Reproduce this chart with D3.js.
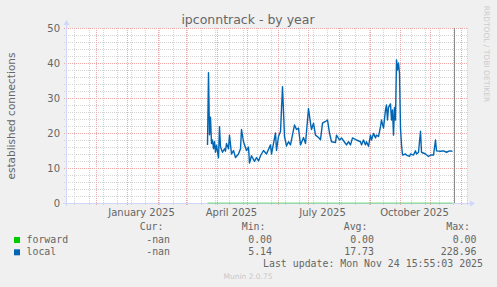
<!DOCTYPE html>
<html>
<head>
<meta charset="utf-8">
<script src="https://cdn.jsdelivr.net/npm/d3@7"></script>
<style>
body { margin: 0; background: #f0f0f0; }
svg { display: block; }
text { font-family: "DejaVu Sans", sans-serif; fill: #666666; }
.mono { font-family: "DejaVu Sans Mono", monospace; font-size: 9.9px; }
</style>
</head>
<body>
<div id="graph"></div>
<script>
// local connections, one reading per date
let localDates = [
    "2025-03-23", "2025-03-24", "2025-03-25", "2025-03-26", "2025-03-27", "2025-03-28", "2025-03-29", "2025-03-30",
    "2025-03-31", "2025-04-01", "2025-04-03", "2025-04-04", "2025-04-05", "2025-04-07", "2025-04-09", "2025-04-10",
    "2025-04-11", "2025-04-13", "2025-04-14", "2025-04-16", "2025-04-18", "2025-04-20", "2025-04-23", "2025-04-25",
    "2025-04-26", "2025-04-28", "2025-05-01", "2025-05-03", "2025-05-04", "2025-05-06", "2025-05-09", "2025-05-11",
    "2025-05-13", "2025-05-15", "2025-05-18", "2025-05-21", "2025-05-25", "2025-05-26", "2025-05-28", "2025-05-30",
    "2025-05-31", "2025-06-02", "2025-06-04", "2025-06-06", "2025-06-08", "2025-06-10", "2025-06-12", "2025-06-14",
    "2025-06-18", "2025-06-20", "2025-06-22", "2025-06-24", "2025-06-27", "2025-06-29", "2025-07-02", "2025-07-04",
    "2025-07-05", "2025-07-07", "2025-07-09", "2025-07-12", "2025-07-14", "2025-07-16", "2025-07-19", "2025-07-21",
    "2025-07-23", "2025-07-25", "2025-07-29", "2025-07-30", "2025-08-02", "2025-08-04", "2025-08-08", "2025-08-09",
    "2025-08-11", "2025-08-13", "2025-08-15", "2025-08-19", "2025-08-23", "2025-08-24", "2025-08-26", "2025-08-28",
    "2025-08-29", "2025-08-31", "2025-09-02", "2025-09-03", "2025-09-05", "2025-09-07", "2025-09-08", "2025-09-10",
    "2025-09-12", "2025-09-13", "2025-09-15", "2025-09-17", "2025-09-18", "2025-09-19", "2025-09-20", "2025-09-22",
    "2025-09-23", "2025-09-24", "2025-09-25", "2025-09-26", "2025-09-27", "2025-09-28", "2025-09-29", "2025-09-30",
    "2025-10-01", "2025-10-02", "2025-10-03", "2025-10-04", "2025-10-07", "2025-10-08", "2025-10-11", "2025-10-12",
    "2025-10-15", "2025-10-17", "2025-10-18", "2025-10-20", "2025-10-22", "2025-10-23", "2025-10-27", "2025-10-30",
    "2025-11-01", "2025-11-04", "2025-11-06", "2025-11-07", "2025-11-11", "2025-11-14", "2025-11-17", "2025-11-20",
    "2025-11-23"
];
let localValues = [
    16.6, 37.2, 19.5, 24.5, 17.0, 18.0, 15.5, 17.5,
    14.5, 16.5, 12.9, 21.8, 16.0, 14.5, 15.5, 14.8,
    17.0, 15.5, 19.4, 14.0, 15.0, 13.0, 14.0, 15.5,
    21.0, 17.5, 15.0, 16.0, 11.4, 13.5, 11.9, 13.0,
    12.0, 13.5, 15.0, 14.0, 16.6, 14.0, 17.0, 20.0,
    15.0, 19.0, 20.4, 33.2, 19.0, 16.3, 17.5, 16.6,
    22.3, 21.0, 21.4, 16.6, 18.7, 17.0, 27.0, 22.8,
    21.0, 22.8, 19.4, 18.7, 18.1, 22.8, 23.3, 23.7,
    20.0, 17.5, 17.3, 19.4, 18.0, 18.6, 17.0, 16.6,
    17.5, 16.6, 18.6, 18.0, 17.5, 16.6, 18.0, 16.6,
    17.5, 16.2, 19.4, 18.0, 19.9, 18.6, 19.4, 19.0,
    21.8, 23.7, 21.4, 26.6, 28.0, 23.7, 27.3, 28.3,
    23.7, 26.6, 19.4, 27.3, 23.7, 40.9, 38.0, 40.0,
    37.0, 21.4, 16.6, 13.7, 14.0, 13.7, 13.3, 14.0,
    13.7, 14.9, 14.0, 14.5, 20.5, 14.5, 14.0, 13.3,
    13.7, 13.7, 18.0, 14.9, 14.8, 14.9, 14.5, 14.9,
    14.8
];
let forwardDates = ["2025-03-23", "2025-11-23"];
let forwardValues = [0, 0];

let yTicks = [0, 10, 20, 30, 40, 50];
let legendNames = ["forward", "local"];
let legendCur = ["-nan", "-nan"];
let legendMin = ["0.00", "5.14"];
let legendAvg = ["0.00", "17.73"];
let legendMax = ["0.00", "228.96"];
let lastUpdate = "Last update: Mon Nov 24 15:55:03 2025";
let nowDate = "2025-11-24T15:55:03";

let colors = ["#00cc00", "#0066b3"];
let svgWidth = 497, svgHeight = 287;
let parseDay = d3.utcParse("%Y-%m-%d");

let x = d3.scaleUtc()
    .domain([new Date(Date.UTC(2024, 10, 2, 12)), new Date(Date.UTC(2025, 11, 7, 12))])
    .range([67, 467]);
let y = d3.scaleLinear()
    .domain([0, 50])
    .range([203, 28]);

let svg = d3.select("#graph").append("svg")
    .attr("width", svgWidth)
    .attr("height", svgHeight);

// 1px on / 1px off dot patterns for the rrdtool style grid
let defs = svg.append("defs");
[["minH", "#d4d4d4", 2, 1], ["minV", "#d4d4d4", 1, 2], ["majH", "#eca8a8", 2, 1], ["majV", "#eca8a8", 1, 2]]
    .forEach(function(p) {
        defs.append("pattern")
            .attr("id", p[0])
            .attr("patternUnits", "userSpaceOnUse")
            .attr("width", p[2]).attr("height", p[3])
            .append("rect")
            .attr("width", 1).attr("height", 1)
            .attr("fill", p[1]);
    });

svg.append("rect")
    .attr("width", svgWidth).attr("height", svgHeight)
    .attr("fill", "#f0f0f0");
svg.append("rect")
    .attr("x", x.range()[0]).attr("y", y.range()[1])
    .attr("width", x.range()[1] - x.range()[0])
    .attr("height", y.range()[0] - y.range()[1])
    .attr("fill", "#ffffff");

// grid, minor first then major
let minorX = d3.utcDay.range(new Date(Date.UTC(2024, 10, 10)), x.domain()[1], 14);
let majorX = d3.utcMonth.range(x.domain()[0], x.domain()[1]);
let grid = svg.append("g").attr("shape-rendering", "crispEdges");

function vLines(data, pat) {
    grid.append("g").selectAll("rect").data(data).enter().append("rect")
        .attr("x", d => Math.round(x(d))).attr("y", 28)
        .attr("width", 1).attr("height", 178)
        .attr("fill", "url(#" + pat + ")");
}
function hLines(data, pat) {
    grid.append("g").selectAll("rect").data(data).enter().append("rect")
        .attr("x", 63).attr("y", d => Math.round(y(d)))
        .attr("width", 405).attr("height", 1)
        .attr("fill", "url(#" + pat + ")");
}
vLines(minorX, "minV");
hLines(y.ticks(25), "minH");
vLines(majorX, "majV");
hLines(yTicks, "majH");

// axes with arrows
let axisColor = "#cfd6f8";
svg.append("line")
    .attr("x1", 63).attr("x2", 470).attr("y1", 203.5).attr("y2", 203.5)
    .attr("stroke", axisColor);
svg.append("path")
    .attr("d", "M470,200.5L475,203.5L470,206.5Z").attr("fill", axisColor);
svg.append("line")
    .attr("x1", 66.5).attr("x2", 66.5).attr("y1", 206).attr("y2", 25)
    .attr("stroke", axisColor);
svg.append("path")
    .attr("d", "M63.5,25L66.5,20L69.5,25Z").attr("fill", axisColor);

// y tick labels
svg.selectAll(".ylab").data(yTicks).enter().append("text")
    .attr("x", 60).attr("y", d => y(d) + 3.5)
    .attr("text-anchor", "end")
    .attr("font-size", "10px")
    .text(d => d);

// x labels sit in the middle of the quarter's first month
svg.selectAll(".xlab").data(d3.utcMonth.every(3).range(x.domain()[0], x.domain()[1])).enter().append("text")
    .attr("x", d => x(d3.utcDay.offset(d, 15)))
    .attr("y", 216)
    .attr("text-anchor", "middle")
    .attr("font-size", "10px")
    .text(d => d3.utcFormat("%B %Y")(d));

// now marker
let now = d3.utcParse("%Y-%m-%dT%H:%M:%S")(nowDate);
svg.append("line")
    .attr("x1", Math.round(x(now)) + 0.5).attr("x2", Math.round(x(now)) + 0.5)
    .attr("y1", 28).attr("y2", 203)
    .attr("stroke", "#8c8c8c");

// series
let line = d3.line()
    .x(d => x(d.date))
    .y(d => y(d.value));
let forward = forwardDates.map((d, i) => ({date: parseDay(d), value: forwardValues[i]}));
let local = localDates.map((d, i) => ({date: parseDay(d), value: localValues[i]}));
svg.append("path")
    .datum(forward)
    .attr("d", line)
    .attr("fill", "none")
    .attr("stroke", colors[0])
    .attr("stroke-opacity", 0.5)
    .attr("stroke-width", 1);
svg.append("path")
    .datum(local)
    .attr("d", line)
    .attr("fill", "none")
    .attr("stroke", colors[1])
    .attr("stroke-width", 1.4)
    .attr("stroke-linejoin", "round");

// titles
svg.append("text")
    .attr("x", 248).attr("y", 24)
    .attr("text-anchor", "middle")
    .attr("font-size", "12.5px")
    .attr("fill", "#555")
    .text("ipconntrack - by year");
svg.append("text")
    .attr("transform", "translate(15,116) rotate(-90)")
    .attr("text-anchor", "middle")
    .attr("font-size", "10.5px")
    .text("established connections");
svg.append("text")
    .attr("transform", "translate(484,54) rotate(90)")
    .attr("text-anchor", "middle")
    .attr("font-size", "7.5px")
    .style("fill", "#cccccc")
    .text("RRDTOOL / TOBI OETIKER");

// legend
let cols = [
    {head: "Cur:", end: 170, vals: legendCur},
    {head: "Min:", end: 272, vals: legendMin},
    {head: "Avg:", end: 374, vals: legendAvg},
    {head: "Max:", end: 476.5, vals: legendMax}
];
cols.forEach(function(c) {
    svg.append("text").attr("class", "mono")
        .attr("x", c.end - 6.5).attr("y", 230)
        .attr("text-anchor", "end")
        .text(c.head);
    c.vals.forEach(function(v, i) {
        svg.append("text").attr("class", "mono")
            .attr("x", c.end).attr("y", 242.5 + i * 12.3)
            .attr("text-anchor", "end")
            .text(v);
    });
});
legendNames.forEach(function(n, i) {
    svg.append("rect")
        .attr("x", 14).attr("y", 237 + i * 12.3)
        .attr("width", 6).attr("height", 6)
        .attr("fill", colors[i]);
    svg.append("text").attr("class", "mono")
        .attr("x", 26.5).attr("y", 242.5 + i * 12.3)
        .text(n);
});
svg.append("text").attr("class", "mono")
    .attr("x", 483).attr("y", 266.5)
    .attr("text-anchor", "end")
    .text(lastUpdate);
svg.append("text")
    .attr("x", 248).attr("y", 279)
    .attr("text-anchor", "middle")
    .attr("font-size", "7.5px")
    .style("fill", "#c8c8c8")
    .text("Munin 2.0.75");
</script>
</body>
</html>
